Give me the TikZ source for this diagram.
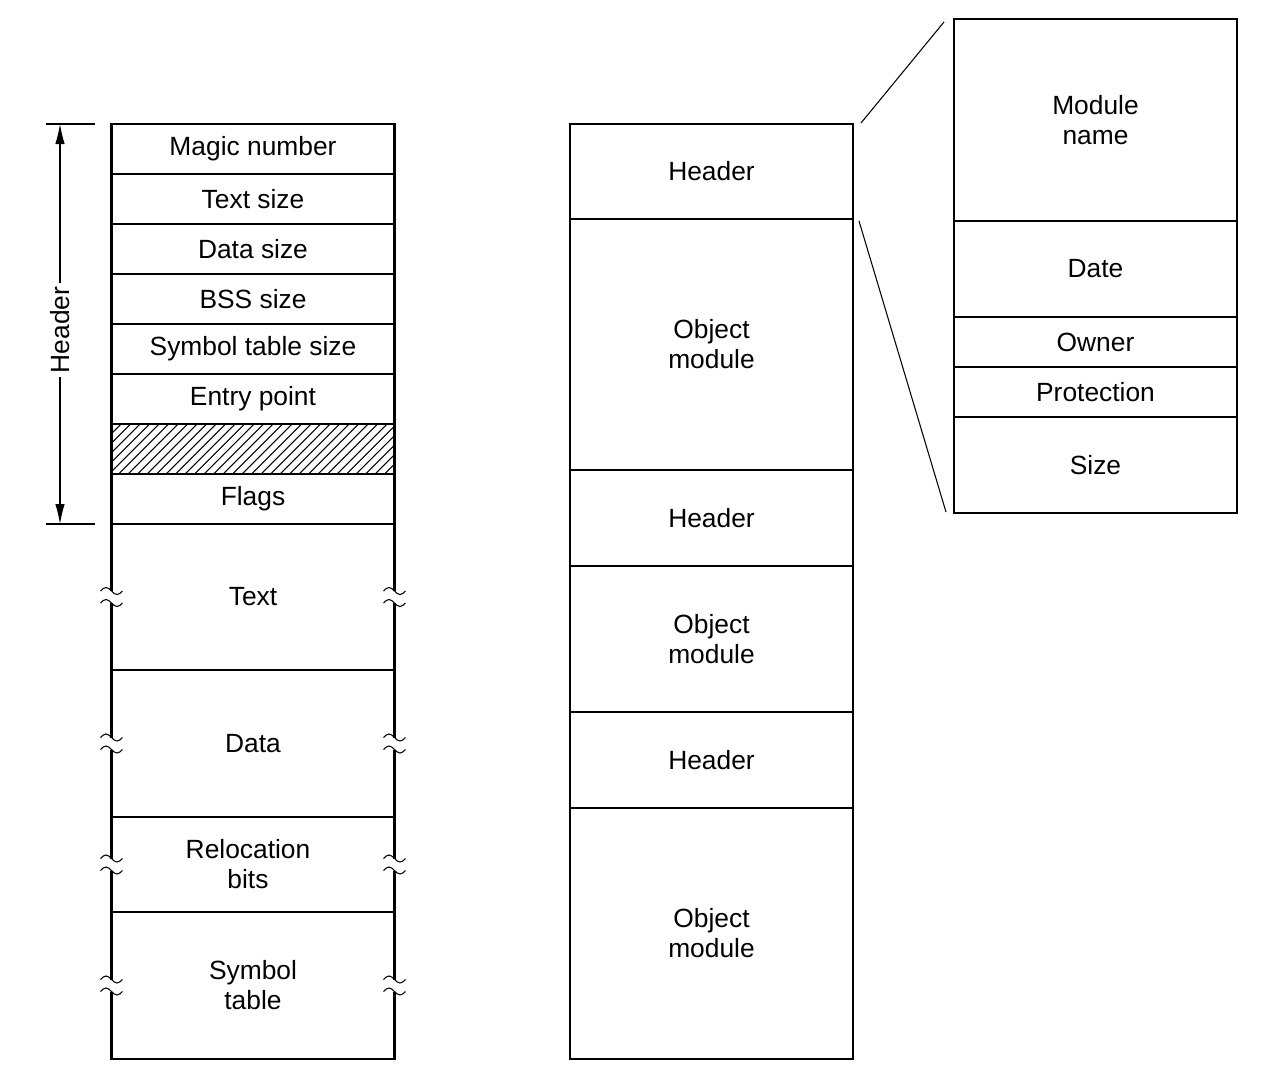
\documentclass[tikz,border=0pt]{standalone}
\usepackage{fontspec}
\setmainfont{Liberation Sans}
\usetikzlibrary{arrows.meta,calc}

\tikzset{
  field/.style={draw, line width=1.4pt, inner sep=0pt, outer sep=0pt,
    minimum width=5.66cm, align=center, font=\fontsize{15}{17}\selectfont},
  brk/.pic={
    \fill[white] (-0.06,0.12) rectangle (0.06,-0.12);
    \draw[line width=0.6pt] (-0.22,0.12) sin (-0.11,0.19) cos (0,0.12) sin (0.11,0.05) cos (0.22,0.12);
    \draw[line width=0.6pt] (-0.22,-0.12) sin (-0.11,-0.05) cos (0,-0.12) sin (0.11,-0.19) cos (0.22,-0.12);
  }
}

\begin{document}
\begin{tikzpicture}
      \useasboundingbox (0,0) rectangle (25.3,-21.58);

      % left: file layout
      \node [field, minimum height=1cm] (magic) at (5.06,-2.98) {Magic number};
      \node [field, minimum height=1cm] (textsize) at (5.06,-3.98) {Text size};
      \node [field, minimum height=1cm] (datasize) at (5.06,-4.98) {Data size};
      \node [field, minimum height=1cm] (bsssize) at (5.06,-5.98) {BSS size};
      \node [field, minimum height=1cm] (symsize) at (5.06,-6.98) {Symbol table size};
      \node [field, minimum height=1cm] (entry) at (5.06,-7.98) {Entry point};
      \node [field, minimum height=1cm, path picture={
          \foreach \i in {0,...,34}
            \draw[line width=0.6pt] ($(path picture bounding box.south west)+(\i*0.19-1,0)$) -- ++(1,1);
        }] (pad) at (5.06,-8.98) {};
      \node [field, minimum height=1cm] (flags) at (5.06,-9.98) {Flags};
      \node [field, minimum height=2.92cm] (text) at (5.06,-11.94) {Text};
      \node [field, minimum height=2.94cm] (data) at (5.06,-14.87) {Data};
      \node [field, minimum height=1.9cm] (reloc) at (5.06,-17.29) {\hspace*{-0.2cm}Relocation\\\hspace*{-0.2cm}bits};
      \node [field, minimum height=2.94cm] (symtab) at (5.06,-19.71) {Symbol\\table};

      \pic at (text.west) {brk};
      \pic at (text.east) {brk};
      \pic at (data.west) {brk};
      \pic at (data.east) {brk};
      \pic at (reloc.west) {brk};
      \pic at (reloc.east) {brk};
      \pic at (symtab.west) {brk};
      \pic at (symtab.east) {brk};

      \coordinate (hdtop) at (1.2,-2.48);
      \coordinate (hdbot) at (1.2,-10.48);
      \draw[line width=0.6pt] (0.92,-2.48) -- (1.9,-2.48);
      \draw[line width=0.6pt] (0.92,-10.48) -- (1.9,-10.48);
      \draw[line width=0.6pt, {Latex[length=4mm,width=1.9mm]}-{Latex[length=4mm,width=1.9mm]}] (hdtop) -- (hdbot)
        node [midway, yshift=-0.12cm, fill=white, inner sep=2pt, rotate=90, font=\fontsize{15}{17}\selectfont] (hdlabel) {Header};

      % middle: archive
      \node [field, minimum height=1.9cm] (hdra) at (14.23,-3.43) {Header};
      \node [field, minimum height=5.02cm] (obja) at (14.23,-6.89) {Object\\module};
      \node [field, minimum height=1.92cm] (hdrb) at (14.23,-10.36) {Header};
      \node [field, minimum height=2.92cm] (objb) at (14.23,-12.78) {Object\\module};
      \node [field, minimum height=1.92cm] (hdrc) at (14.23,-15.2) {Header};
      \node [field, minimum height=5.02cm] (objc) at (14.23,-18.67) {Object\\module};

      % right: header detail
      \node [field, minimum height=4.04cm] (modname) at (21.91,-2.4) {Module\\name};
      \node [field, minimum height=1.92cm] (date) at (21.91,-5.38) {Date};
      \node [field, minimum height=1cm] (owner) at (21.91,-6.84) {Owner};
      \node [field, minimum height=1cm] (prot) at (21.91,-7.84) {Protection};
      \node [field, minimum height=1.92cm] (size) at (21.91,-9.3) {Size};

      \coordinate (zta) at (17.22,-2.46);
      \coordinate (ztb) at (18.88,-0.44);
      \coordinate (zba) at (17.18,-4.42);
      \coordinate (zbb) at (18.92,-10.24);
      \draw[line width=0.6pt] (zta) -- (ztb);
      \draw[line width=0.6pt] (zba) -- (zbb);
\end{tikzpicture}
\end{document}
